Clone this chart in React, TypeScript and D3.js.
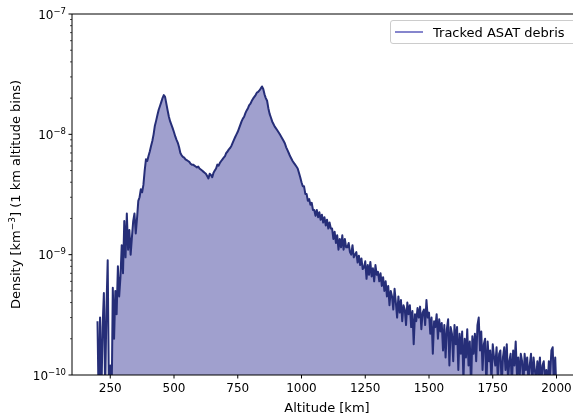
import { useEffect, useRef } from "react";
import * as d3 from "d3";

// altitude bins, 5 km apart, first bin at 200 km
const altStart = 200;
const altStep = 5;
// density in units of 1e-10 km^-3
const densityUnit = 1e-10;
const density = [
  2.8, 0.5, 3.0, 0.6, 2.5, 4.8, 0.7, 3.5, 9.0, 0.6,
  1.2, 0.5, 5.3, 2.0, 5.0, 3.2, 8.0, 4.5, 6.5, 12,
  7.0, 19, 9.5, 22, 11, 16, 10, 14, 19, 22,
  15, 20, 28, 30, 35, 33, 38, 50, 62, 60,
  66, 72, 80, 88, 100, 118, 130, 145, 160, 172,
  185, 200, 212, 205, 180, 158, 140, 128, 120, 112,
  104, 96, 90, 85, 78, 70, 67, 65, 64, 62,
  61, 60, 59, 57, 56, 56, 55, 54, 53, 54,
  52, 51, 50, 49, 48, 47, 45, 43, 47, 46,
  44, 48, 50, 52, 56, 55, 58, 60, 62, 64,
  66, 70, 72, 75, 77, 80, 85, 90, 95, 100,
  105, 112, 120, 128, 135, 140, 150, 158, 165, 175,
  180, 190, 198, 205, 212, 222, 225, 232, 240, 250,
  238, 215, 200, 190, 165, 148, 138, 128, 122, 116,
  112, 108, 104, 100, 96, 92, 88, 84, 78, 74,
  70, 66, 63, 60, 58, 56, 54, 52, 48, 44,
  40, 37, 37, 32, 32, 28, 29, 26, 27, 23.5,
  23.5, 21, 23.5, 20.5, 22.5, 19.5, 21.5, 18.5, 20.5, 17.5,
  19.5, 16.5, 18.5, 16.5, 16.5, 13.5, 15.5, 12.5, 14.5, 11,
  13.5, 11.5, 14.5, 11, 13.5, 11.5, 11.5, 12.5, 10.5, 10,
  12, 9.5, 10, 10.5, 8.6, 9.8, 8.2, 9.3, 7.6, 7.8,
  8.8, 6.3, 8.2, 6.8, 8.7, 6.6, 7.7, 6.0, 8.2, 6.8,
  7.2, 6, 7, 5.5, 6.5, 5, 6, 4.5, 5.5, 3.8,
  5, 4.5, 3.5, 5.2, 4, 3, 4.5, 3.3, 4.2, 2.8,
  3.8, 3.5, 2.6, 4, 3.2, 3.8, 2.5, 3.4, 1.8, 3.2,
  2.8, 3.6, 3, 3.7, 2.4, 3.3, 3.5, 2.6, 4.2, 3,
  3.3, 2.2, 3, 1.5, 2.8, 2.5, 3.2, 2, 2.9, 2.3,
  2.7, 1.6, 2.6, 1.4, 2.4, 2.9, 1.2, 2.5, 2.2, 1.3,
  2.6, 1.8, 2.5, 1.1, 2.2, 1.5, 2.3, 0.9, 2, 1.4,
  2.4, 1.2, 1.9, 0.8, 2.1, 1.5, 2.2, 1.3, 2.6, 3.0,
  1.6, 2.3, 1.1, 1.8, 2.0, 0.8, 1.9, 1.3, 1.6, 0.9,
  1.8, 1.4, 1.2, 1.7, 0.9, 1.5, 1.6, 0.8, 1.4, 1.7,
  1.1, 1.8, 0.9, 1.3, 1.5, 0.8, 1.6, 1.2, 1.9, 1.0,
  1.4, 0.9, 1.5, 1.3, 0.8, 1.5, 1.1, 1.4, 0.9, 1.2,
  1.5, 0.8, 1.4, 1.1, 0.9, 1.3, 1.0, 1.4, 0.8, 1.2,
  1.3, 0.9, 1.1, 0.8, 1.3, 1.0, 1.6, 1.7, 0.8, 1.4,
  0.7,
];
// fill under the curve only where the bins are all populated
const fillFrom = 260;

const xTicks = [250, 500, 750, 1000, 1250, 1500, 1750, 2000];
const yExponents = [-10, -9, -8, -7];

const App = () => {
  const chartRef = useRef(null);

  useEffect(() => {
    if (!chartRef.current) return;
    const svg = d3.select(chartRef.current);
    svg.selectAll("*").remove();

    const width = 573;
    const height = 416;
    const margin = { top: 14, left: 72, bottom: 375, right: 582 };
    const font = "DejaVu Sans, sans-serif";

    const data = density.map((v, i) => ({
      alt: altStart + i * altStep,
      d: v * densityUnit,
    }));

    const x = d3.scaleLinear().domain([100, 2100]).range([margin.left, margin.right]);
    const y = d3.scaleLog().domain([1e-10, 1e-7]).range([margin.bottom, margin.top]);

    svg.attr("width", width).attr("height", height).attr("viewBox", [0, 0, width, height]);

    svg
      .append("clipPath")
      .attr("id", "plotclip")
      .append("rect")
      .attr("x", margin.left)
      .attr("y", margin.top)
      .attr("width", margin.right - margin.left)
      .attr("height", margin.bottom - margin.top);

    const plot = svg.append("g").attr("clip-path", "url(#plotclip)");

    const area = d3
      .area<any>()
      .x((d) => x(d.alt))
      .y0(margin.bottom + 5)
      .y1((d) => y(Math.max(d.d, 1e-11)));

    plot
      .append("path")
      .attr("fill", "#a0a0ce")
      .attr("d", area(data.filter((d) => d.alt >= fillFrom)));

    const line = d3
      .line<any>()
      .x((d) => x(d.alt))
      .y((d) => y(Math.max(d.d, 1e-11)));

    plot
      .append("path")
      .attr("fill", "none")
      .attr("stroke", "#262e78")
      .attr("stroke-width", 2)
      .attr("stroke-linejoin", "round")
      .attr("d", line(data));

    // spines
    const spines = svg.append("g").attr("stroke", "black").attr("stroke-width", 1);
    spines.append("line").attr("x1", margin.left).attr("x2", margin.left).attr("y1", margin.top).attr("y2", margin.bottom);
    spines.append("line").attr("x1", margin.left).attr("x2", margin.right).attr("y1", margin.bottom).attr("y2", margin.bottom);
    spines.append("line").attr("x1", margin.left).attr("x2", margin.right).attr("y1", margin.top).attr("y2", margin.top);

    // x axis
    const gx = svg.append("g");
    xTicks.forEach((t) => {
      gx.append("line")
        .attr("x1", x(t)).attr("x2", x(t))
        .attr("y1", margin.bottom).attr("y2", margin.bottom + 3.5)
        .attr("stroke", "black");
      gx.append("text")
        .attr("x", x(t)).attr("y", margin.bottom + 17)
        .attr("text-anchor", "middle")
        .attr("font-family", font).attr("font-size", 12)
        .text(t);
    });
    svg.append("text")
      .attr("x", (margin.left + margin.right) / 2)
      .attr("y", 412)
      .attr("text-anchor", "middle")
      .attr("font-family", font).attr("font-size", 13)
      .text("Altitude [km]");

    // y axis
    const gy = svg.append("g");
    yExponents.forEach((e) => {
      const v = Math.pow(10, e);
      gy.append("line")
        .attr("x1", margin.left - 3.5).attr("x2", margin.left)
        .attr("y1", y(v)).attr("y2", y(v))
        .attr("stroke", "black");
      const t = gy.append("text")
        .attr("x", margin.left - 6).attr("y", y(v) + 4.5)
        .attr("text-anchor", "end")
        .attr("font-family", font).attr("font-size", 12);
      t.append("tspan").text("10");
      t.append("tspan").attr("dy", -5).attr("font-size", 8.5).text("\u2212" + Math.abs(e));
      if (e < -7) {
        for (let m = 2; m <= 9; m++) {
          gy.append("line")
            .attr("x1", margin.left - 2).attr("x2", margin.left)
            .attr("y1", y(m * v)).attr("y2", y(m * v))
            .attr("stroke", "black").attr("stroke-width", 0.7);
        }
      }
    });
    const yl = svg.append("text")
      .attr("transform", `translate(20,${(margin.top + margin.bottom) / 2}) rotate(-90)`)
      .attr("text-anchor", "middle")
      .attr("font-family", font).attr("font-size", 13);
    yl.append("tspan").text("Density [km");
    yl.append("tspan").attr("dy", -5).attr("font-size", 9).text("\u22123");
    yl.append("tspan").attr("dy", 5).text("] (1 km altitude bins)");

    // legend
    const lg = svg.append("g");
    lg.append("rect")
      .attr("x", 390.5).attr("y", 20.5)
      .attr("width", 200).attr("height", 23)
      .attr("rx", 2.5)
      .attr("fill", "white").attr("fill-opacity", 0.8)
      .attr("stroke", "#cccccc");
    lg.append("line")
      .attr("x1", 395).attr("x2", 423)
      .attr("y1", 32).attr("y2", 32)
      .attr("stroke", "#6868c0").attr("stroke-width", 1.6);
    lg.append("text")
      .attr("x", 433).attr("y", 36.5)
      .attr("font-family", font).attr("font-size", 13)
      .text("Tracked ASAT debris");
  }, []);

  return (
    <div style={{ position: "fixed", left: 0, top: 0 }}>
      <svg ref={chartRef} style={{ display: "block" }}></svg>
    </div>
  );
};

export default App;
